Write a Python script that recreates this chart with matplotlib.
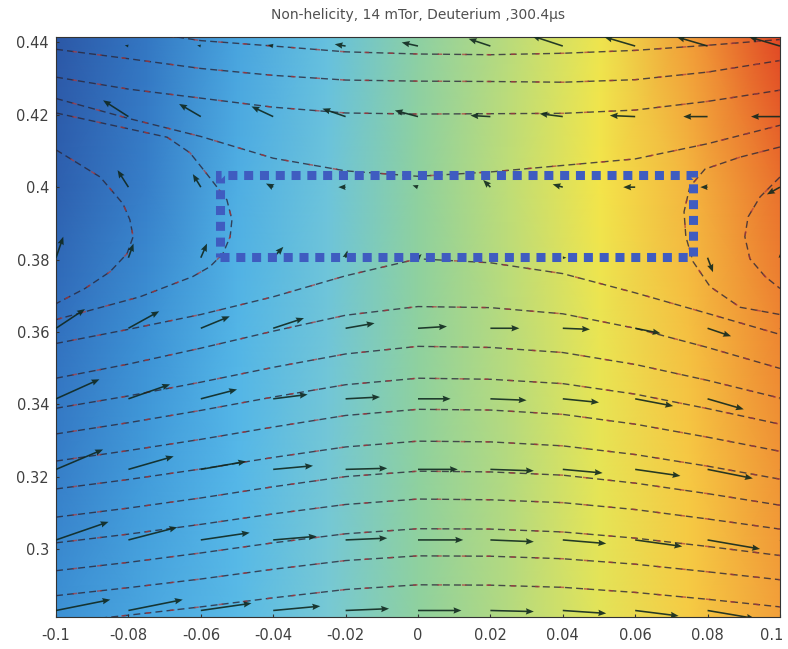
import matplotlib
matplotlib.use("Agg")
import matplotlib.pyplot as plt
import matplotlib.transforms as mtransforms
import numpy as np
from matplotlib.colors import LinearSegmentedColormap
from matplotlib.patches import Rectangle

plt.rcParams["font.family"] = ["DejaVu Sans"]
plt.rcParams["axes.unicode_minus"] = False

TITLE = "Non-helicity, 14 mTor, Deuterium ,300.4\u03bcs"

# ── background map (colour level at sample points) ──────────────────────────
bg_x = [-0.1, -0.075, -0.05, -0.025, 0.0, 0.025, 0.05, 0.075, 0.1]
bg_y = [0.28, 0.32, 0.36, 0.40, 0.445]
bg_level = [
    [0.19, 0.25, 0.31, 0.39, 0.48, 0.56, 0.65, 0.77, 0.86],
    [0.14, 0.22, 0.30, 0.38, 0.48, 0.56, 0.66, 0.78, 0.88],
    [0.10, 0.19, 0.29, 0.37, 0.48, 0.57, 0.67, 0.80, 0.91],
    [0.05, 0.14, 0.27, 0.36, 0.48, 0.58, 0.70, 0.82, 0.94],
    [0.02, 0.11, 0.24, 0.34, 0.47, 0.57, 0.68, 0.87, 1.00],
]

cmap_pos = [0.0, 0.10, 0.20, 0.30, 0.40, 0.48, 0.56, 0.64, 0.70, 0.78, 0.86, 0.93, 1.0]
cmap_col = ["#2b50a0", "#3272c0", "#3f96d8", "#55b8e8", "#7ccbd2", "#8fd19e",
            "#b4da80", "#e0e45c", "#f3e64a", "#f6c843", "#f2a23a", "#ec7a2f",
            "#e04424"]

# ── flux surfaces ───────────────────────────────────────────────────────────
flux_x = [-0.1, -0.08, -0.06, -0.04, -0.02, 0.0, 0.02, 0.04, 0.06, 0.08, 0.1]

upper_lines = [
    [0.4460, 0.4435, 0.4405, 0.4390, 0.4374, 0.4368, 0.4366, 0.4370, 0.4378, 0.4392, 0.4408],
    [0.4381, 0.4355, 0.4328, 0.4309, 0.4296, 0.4293, 0.4292, 0.4290, 0.4297, 0.4318, 0.4350],
    [0.4304, 0.4271, 0.4246, 0.4221, 0.4205, 0.4202, 0.4203, 0.4204, 0.4213, 0.4237, 0.4268],
    [0.4245, 0.4190, 0.4140, 0.4080, 0.4045, 0.4030, 0.4042, 0.4060, 0.4078, 0.4120, 0.4171],
]

lower_lines = [
    [0.3568, 0.3607, 0.3648, 0.3697, 0.3755, 0.3802, 0.3791, 0.3761, 0.3708, 0.3651, 0.3593],
    [0.3472, 0.3511, 0.3555, 0.3602, 0.3646, 0.3670, 0.3667, 0.3650, 0.3610, 0.3557, 0.3499],
    [0.3389, 0.3423, 0.3461, 0.3502, 0.3539, 0.3560, 0.3557, 0.3543, 0.3510, 0.3466, 0.3417],
    [0.3318, 0.3349, 0.3383, 0.3420, 0.3454, 0.3472, 0.3469, 0.3457, 0.3428, 0.3388, 0.3345],
    [0.3243, 0.3272, 0.3303, 0.3337, 0.3369, 0.3386, 0.3384, 0.3372, 0.3345, 0.3309, 0.3270],
    [0.3166, 0.3192, 0.3221, 0.3253, 0.3282, 0.3298, 0.3296, 0.3285, 0.3261, 0.3229, 0.3193],
    [0.3088, 0.3113, 0.3141, 0.3172, 0.3200, 0.3215, 0.3213, 0.3204, 0.3182, 0.3153, 0.3121],
    [0.3017, 0.3041, 0.3068, 0.3097, 0.3123, 0.3138, 0.3136, 0.3128, 0.3109, 0.3083, 0.3055],
    [0.2940, 0.2963, 0.2989, 0.3017, 0.3042, 0.3056, 0.3055, 0.3047, 0.3030, 0.3007, 0.2982],
    [0.2871, 0.2893, 0.2917, 0.2944, 0.2968, 0.2981, 0.2980, 0.2973, 0.2958, 0.2937, 0.2915],
    [0.2796, 0.2817, 0.2840, 0.2865, 0.2888, 0.2901, 0.2900, 0.2894, 0.2880, 0.2861, 0.2840],
]

# closed-side surfaces bending round the left and right edges
left_1_x = [-0.1, -0.0878, -0.0815, -0.0796, -0.0787, -0.0804, -0.0851, -0.0920, -0.1]
left_1_y = [0.4103, 0.4028, 0.3954, 0.3910, 0.3863, 0.3816, 0.3766, 0.3720, 0.3678]
left_2_x = [-0.1, -0.0693, -0.0630, -0.0583, -0.0528, -0.0514, -0.0519, -0.0539,
            -0.0575, -0.0622, -0.0768, -0.1]
left_2_y = [0.4205, 0.4138, 0.4095, 0.4036, 0.3965, 0.3910, 0.3863, 0.3816,
            0.3780, 0.3753, 0.3697, 0.3634]
right_1_x = [0.1, 0.0890, 0.0793, 0.0751, 0.0735, 0.0740, 0.0760, 0.0807, 0.0890, 0.1]
right_1_y = [0.4111, 0.4083, 0.4050, 0.4001, 0.3932, 0.3863, 0.3794, 0.3725, 0.3668, 0.3648]
right_2_x = [0.1, 0.0945, 0.0912, 0.0903, 0.0917, 0.0959, 0.1]
right_2_y = [0.4028, 0.3973, 0.3918, 0.3863, 0.3802, 0.3753, 0.3720]

# ── flow vectors (units of 0.01 m per arrow) ────────────────────────────────
arrow_x = [-0.1, -0.08, -0.06, -0.04, -0.02, 0.0, 0.02, 0.04, 0.06, 0.08, 0.1]
arrow_y = [0.283, 0.3025, 0.322, 0.3415, 0.361, 0.3805, 0.400, 0.4195, 0.439]
arrow_u = [
    [1.50, 1.50, 1.40, 1.30, 1.20, 1.20, 1.20, 1.20, 1.20, 1.30, 1.30],
    [1.45, 1.35, 1.35, 1.20, 1.15, 1.25, 1.20, 1.20, 1.30, 1.45, 1.40],
    [1.30, 1.25, 1.25, 1.10, 1.15, 1.10, 1.20, 1.10, 1.25, 1.25, 1.20],
    [1.20, 1.15, 1.00, 0.95, 0.95, 0.90, 1.00, 1.00, 1.05, 1.00, 1.00],
    [0.80, 0.85, 0.80, 0.85, 0.80, 0.80, 0.80, 0.75, 0.70, 0.65, 0.60],
    [0.20, 0.14, 0.17, 0.28, 0.05, 0.10, 0.10, 0.10, 0.05, 0.15, 0.00],
    [-0.20, -0.30, -0.22, -0.20, -0.20, -0.15, -0.20, -0.28, -0.33, -0.20, -0.36],
    [-0.60, -0.70, -0.60, -0.60, -0.64, -0.64, -0.55, -0.64, -0.70, -0.67, -0.80],
    [-0.10, -0.10, -0.10, -0.15, -0.30, -0.45, -0.60, -0.85, -0.85, -0.85, -0.85],
]
arrow_v = [
    [0.30, 0.30, 0.20, 0.12, 0.05, 0.00, -0.03, -0.08, -0.15, -0.22, -0.28],
    [0.50, 0.35, 0.20, 0.10, 0.05, 0.00, -0.05, -0.10, -0.18, -0.25, -0.30],
    [0.55, 0.36, 0.22, 0.10, 0.03, 0.00, -0.04, -0.10, -0.18, -0.25, -0.30],
    [0.54, 0.40, 0.26, 0.12, 0.05, 0.00, -0.04, -0.10, -0.20, -0.29, -0.30],
    [0.53, 0.47, 0.33, 0.28, 0.14, 0.05, 0.00, -0.03, -0.14, -0.22, -0.30],
    [0.58, 0.39, 0.39, 0.30, 0.20, 0.10, 0.00, 0.00, -0.10, -0.40, 0.10],
    [0.40, 0.47, 0.36, 0.10, 0.00, 0.05, 0.20, 0.08, 0.00, 0.00, -0.20],
    [0.40, 0.45, 0.35, 0.28, 0.22, 0.17, 0.03, 0.08, 0.03, 0.00, 0.00],
    [0.02, 0.02, 0.02, 0.03, 0.05, 0.10, 0.20, 0.28, 0.25, 0.25, 0.25],
]

# marked region
box_x0, box_x1 = -0.0547, 0.0760
box_y0, box_y1 = 0.3808, 0.4034

XLIM = (-0.1, 0.1)
YLIM = (0.2812, 0.4415)
x_ticks = [-0.1, -0.08, -0.06, -0.04, -0.02, 0.0, 0.02, 0.04, 0.06, 0.08, 0.1]
y_ticks = [0.3, 0.32, 0.34, 0.36, 0.38, 0.4, 0.42, 0.44]


def flux_line(ax, xs, ys):
    # dark dashes with a reddish dash laid in between, like the printed contours
    ax.plot(xs, ys, color="#2a2638", lw=1.0, ls=(0, (5, 3)), alpha=0.8, zorder=3)
    ax.plot(xs, ys, color="#b0383c", lw=1.1, ls=(5, (3, 13)), alpha=0.7, zorder=3)


fig = plt.figure(figsize=(7.88, 6.49), dpi=100)
ax = fig.add_axes([0.0711, 0.0493, 0.9187, 0.8937])

cmap = LinearSegmentedColormap.from_list("faded_jet", list(zip(cmap_pos, cmap_col)))
gx, gy = np.meshgrid(bg_x, bg_y)
ax.pcolormesh(gx, gy, np.array(bg_level), shading="gouraud", cmap=cmap,
              vmin=0, vmax=1, zorder=1)

for ys in upper_lines + lower_lines:
    flux_line(ax, flux_x, ys)
for xs, ys in [(left_1_x, left_1_y), (left_2_x, left_2_y),
               (right_1_x, right_1_y), (right_2_x, right_2_y)]:
    flux_line(ax, xs, ys)

qx, qy = np.meshgrid(arrow_x, arrow_y)
ax.quiver(qx, qy, np.array(arrow_u) * 0.01, np.array(arrow_v) * 0.01,
          angles="xy", scale_units="xy", scale=1, color="#10281f",
          width=0.0022, headwidth=4, headlength=5, headaxislength=4.5,
          alpha=0.9, zorder=4)

ax.add_patch(Rectangle((box_x0, box_y0), box_x1 - box_x0, box_y1 - box_y0,
                       fill=False, ec="#3f5cc0", lw=6.5, ls=(0, (1, 0.75)),
                       capstyle="butt", zorder=5))

ax.set_xlim(*XLIM)
ax.set_ylim(*YLIM)
ax.set_xticks(x_ticks)
ax.set_yticks(y_ticks)
ax.set_xticklabels(["%g" % v for v in x_ticks])
ax.set_yticklabels(["%g" % v for v in y_ticks])
ax.tick_params(direction="in", length=2, labelsize=10.5, labelcolor="#404040",
               color="#333333")
ax.tick_params(axis="x", pad=8)
ax.tick_params(axis="y", pad=5)
for sp in ax.spines.values():
    sp.set_color("#333333")
    sp.set_linewidth(0.8)
ax.set_title(TITLE, fontsize=10, color="#505050", pad=13)

# keep the last x label inside the figure edge
last = ax.get_xticklabels()[-1]
last.set_transform(last.get_transform() +
                   mtransforms.ScaledTranslation(-6 / 72, 0, fig.dpi_scale_trans))

fig.savefig("out.png", dpi=100)
